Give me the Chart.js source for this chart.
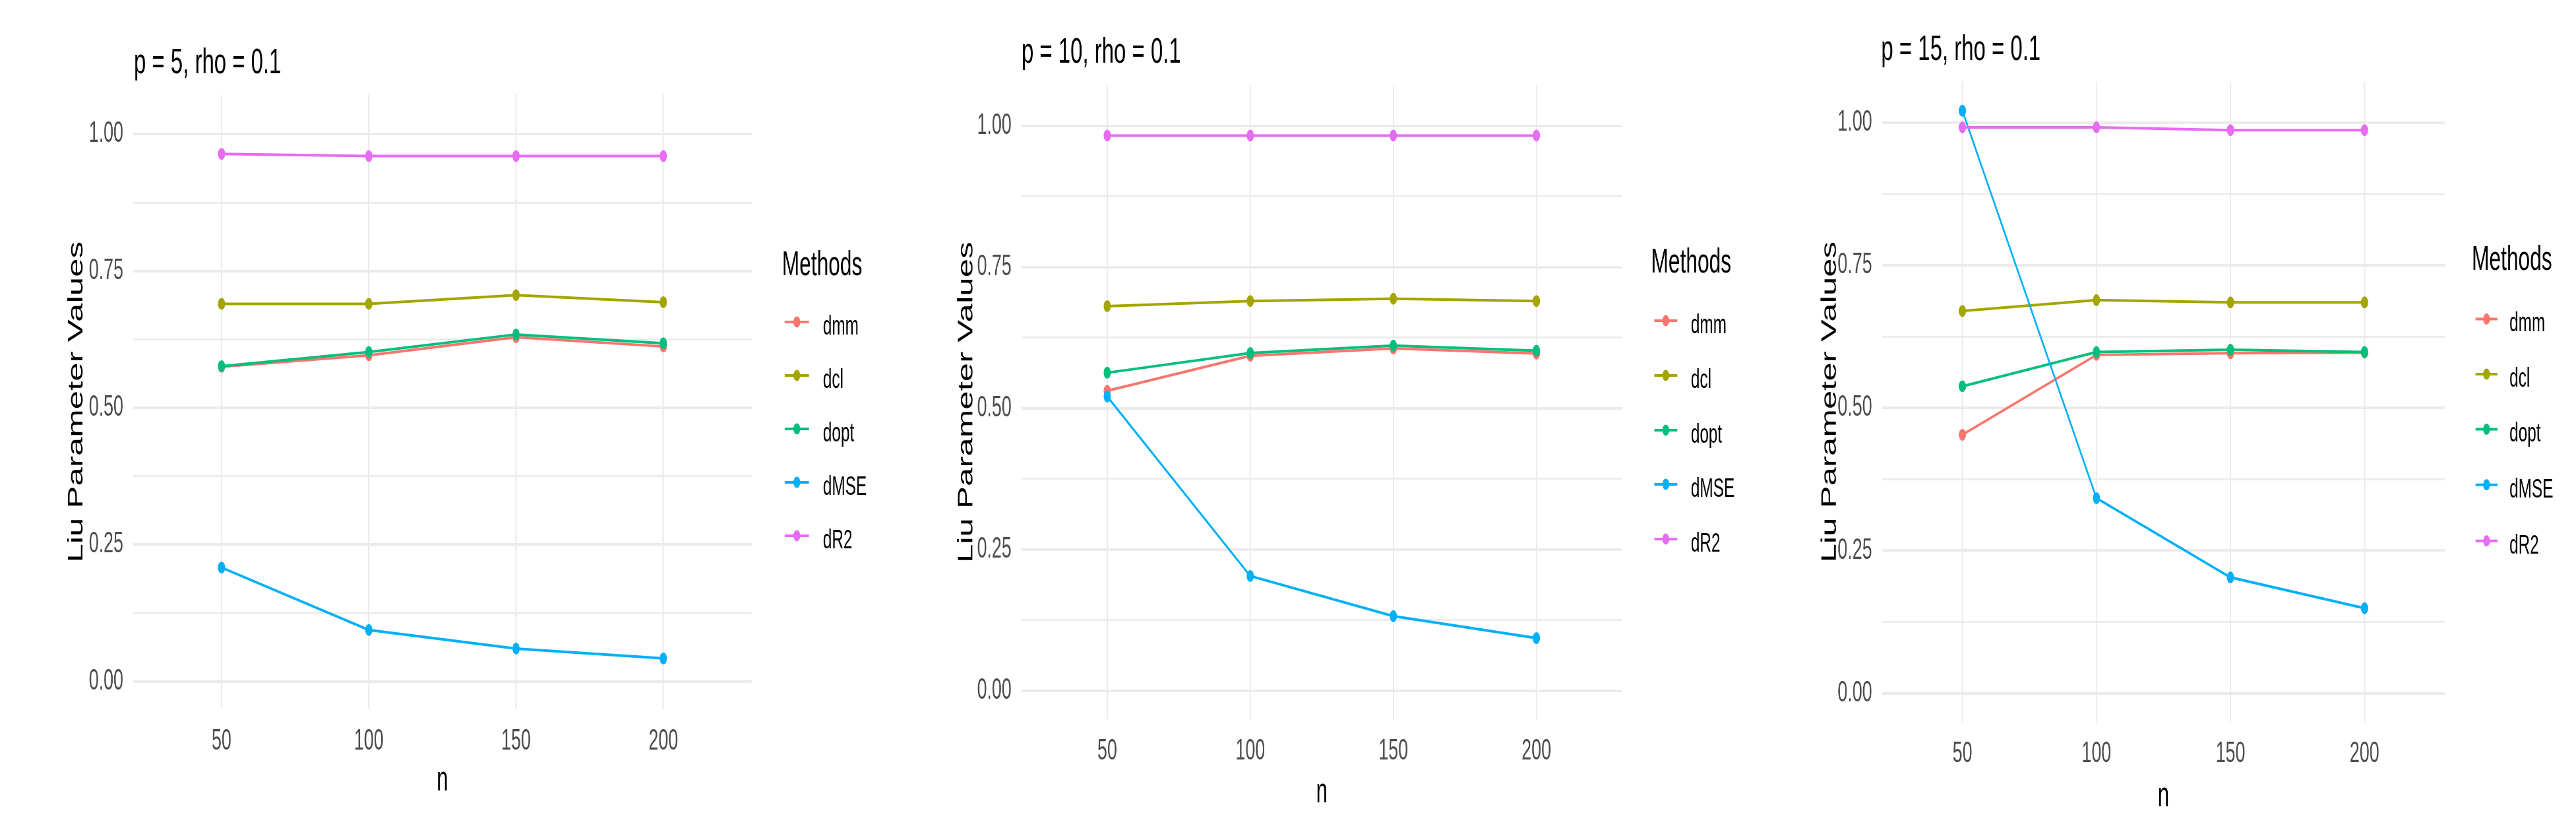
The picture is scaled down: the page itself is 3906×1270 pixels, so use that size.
<!DOCTYPE html>
<html>
<head>
<meta charset="utf-8">
<script src="https://cdn.jsdelivr.net/npm/chart.js@4.4.1/dist/chart.umd.min.js"></script>
<style>
  html, body { margin: 0; padding: 0; background: #fff; }
  #wrap { position: relative; width: 3906px; height: 1270px; overflow: hidden; background: #fff; }
  canvas { position: absolute; top: 0; }
</style>
</head>
<body>
<div id="wrap">
  <canvas id="p5"></canvas>
  <canvas id="p10"></canvas>
  <canvas id="p15"></canvas>
</div>
<script>
const nValues = [50, 100, 150, 200];
const methods = ['dmm', 'dcl', 'dopt', 'dMSE', 'dR2'];
const methodColors = ['#F8766D', '#A3A500', '#00BF7D', '#00B0F6', '#E76BF3'];
const yTicks = [0, 0.125, 0.25, 0.375, 0.5, 0.625, 0.75, 0.875, 1];

// p = 5
const p5_dmm  = [0.575, 0.596, 0.629, 0.612];
const p5_dcl  = [0.690, 0.690, 0.706, 0.693];
const p5_dopt = [0.576, 0.602, 0.634, 0.618];
const p5_dMSE = [0.208, 0.094, 0.060, 0.042];
const p5_dR2  = [0.964, 0.960, 0.960, 0.960];

// p = 10
const p10_dmm  = [0.531, 0.593, 0.606, 0.597];
const p10_dcl  = [0.681, 0.690, 0.694, 0.690];
const p10_dopt = [0.563, 0.598, 0.611, 0.602];
const p10_dMSE = [0.521, 0.203, 0.132, 0.093];
const p10_dR2  = [0.983, 0.983, 0.983, 0.983];

// p = 15
const p15_dmm  = [0.453, 0.593, 0.596, 0.597];
const p15_dcl  = [0.670, 0.689, 0.685, 0.685];
const p15_dopt = [0.538, 0.598, 0.602, 0.598];
const p15_dMSE = [1.021, 0.342, 0.203, 0.149];
const p15_dR2  = [0.992, 0.992, 0.987, 0.987];

// the picture is squeezed sideways, so each canvas is drawn wider and shrunk by css
const SQUASH = 0.61;
const H = 1270;
const FONT = '"Liberation Sans", Arial, sans-serif';

// y range shared by all panels: 0 .. overall max, plus ggplot's 5% expansion
const allY = [].concat(p5_dMSE, p10_dMSE, p15_dMSE, p5_dR2, p10_dR2, p15_dR2);
const yTop = Math.max(...allY);
const yMin = -0.05 * yTop;
const yMax = 1.05 * yTop;
// discrete x axis: 0.6 of a step on each side
const xStep = nValues[1] - nValues[0];
const xMin = nValues[0] - 0.6 * xStep;
const xMax = nValues[nValues.length - 1] + 0.6 * xStep;

const panels = [
  { id: 'p5', title: 'p = 5, rho = 0.1', series: [p5_dmm, p5_dcl, p5_dopt, p5_dMSE, p5_dR2],
    left: 0, width: 1360, area: { l: 202, r: 1140, t: 143.6, b: 1075 },
    titleX: 203, titleY: 110.7, yTitleX: 116.5, nY: 1189,
    legend: { x: 1186, titleY: 416.7, keys: [488, 569, 650, 731, 812], k1: 1190, k2: 1227, lab: 1248 } },
  { id: 'p10', title: 'p = 10, rho = 0.1', series: [p10_dmm, p10_dcl, p10_dopt, p10_dMSE, p10_dR2],
    left: 1300, width: 1360, area: { l: 1548.8, r: 2460, t: 129.2, b: 1090.4 },
    titleX: 1549, titleY: 95, yTitleX: 1466, nY: 1207,
    legend: { x: 2503.7, titleY: 413, keys: [486, 569, 652, 734, 817], k1: 2508.7, k2: 2543.5, lab: 2564 } },
  { id: 'p15', title: 'p = 15, rho = 0.1', series: [p15_dmm, p15_dcl, p15_dopt, p15_dMSE, p15_dR2],
    left: 2600, width: 1306, area: { l: 2853.6, r: 3707.3, t: 123.7, b: 1094.7 },
    titleX: 2852.4, titleY: 90.6, yTitleX: 2775, nY: 1213,
    legend: { x: 3748, titleY: 409, keys: [483.6, 567, 650.4, 734.7, 819.7], k1: 3753.7, k2: 3787, lab: 3805 } }
];

function isMajor(v) {
  return Math.abs(v * 4 - Math.round(v * 4)) < 1e-9;
}

function decoPlugin(pn, ix) {
  return {
    id: 'deco',
    afterDraw(chart) {
      const ctx = chart.ctx;
      const lg = pn.legend;
      ctx.save();
      ctx.fillStyle = '#000';
      ctx.textAlign = 'left';
      ctx.textBaseline = 'alphabetic';
      ctx.font = '54px ' + FONT;
      ctx.fillText(pn.title, ix(pn.titleX), pn.titleY);

      ctx.font = '52px ' + FONT;
      ctx.fillText('Methods', ix(lg.x), lg.titleY);

      ctx.font = '40px ' + FONT;
      methods.forEach((m, i) => {
        const y = lg.keys[i];
        const x1 = ix(lg.k1), x2 = ix(lg.k2);
        ctx.strokeStyle = methodColors[i];
        ctx.lineWidth = 4;
        ctx.beginPath();
        ctx.moveTo(x1, y);
        ctx.lineTo(x2, y);
        ctx.stroke();
        ctx.fillStyle = methodColors[i];
        ctx.beginPath();
        ctx.arc((x1 + x2) / 2, y, 8.5, 0, Math.PI * 2);
        ctx.fill();
        ctx.fillStyle = '#000';
        ctx.fillText(m, ix(lg.lab), y + 18.8);
      });
      ctx.restore();
    }
  };
}

function makeChart(pn) {
  const cv = document.getElementById(pn.id);
  const wInt = Math.round(pn.width / SQUASH);
  cv.width = wInt;
  cv.height = H;
  cv.style.left = pn.left + 'px';
  cv.style.width = pn.width + 'px';
  cv.style.height = H + 'px';

  const ix = x => (x - pn.left) / SQUASH;
  const areaL = ix(pn.area.l);
  const areaR = ix(pn.area.r);
  const yTitlePad = ix(pn.yTitleX) - 51 * 1.2 / 2;
  const nPad = H - (pn.nY - 4.6) - 51 * 1.2 / 2;

  return new Chart(cv, {
    type: 'line',
    data: {
      datasets: methods.map((m, i) => ({
        label: m,
        data: nValues.map((n, j) => ({ x: n, y: pn.series[i][j] })),
        borderColor: methodColors[i],
        backgroundColor: methodColors[i],
        borderWidth: 4,
        pointRadius: 9,
        pointHoverRadius: 9,
        pointBorderWidth: 0,
        tension: 0,
        order: methods.length - i
      }))
    },
    options: {
      responsive: false,
      animation: false,
      devicePixelRatio: 1,
      events: [],
      layout: { padding: { left: 0, top: pn.area.t, right: wInt - areaR, bottom: 0 } },
      plugins: {
        legend: { display: false },
        tooltip: { enabled: false },
        title: { display: false }
      },
      scales: {
        x: {
          type: 'linear',
          min: xMin,
          max: xMax,
          afterBuildTicks: s => { s.ticks = nValues.map(v => ({ value: v })); },
          afterFit: s => { s.height = H - pn.area.b; },
          ticks: {
            callback: v => String(v),
            color: '#4D4D4D',
            font: { family: FONT, size: 44 },
            padding: 22,
            autoSkip: false,
            maxRotation: 0,
            minRotation: 0
          },
          grid: { color: '#EBEBEB', lineWidth: 3.4, drawTicks: false },
          border: { display: false },
          title: {
            display: true,
            text: 'n',
            color: '#000',
            font: { family: FONT, size: 51 },
            padding: { top: 0, bottom: nPad }
          }
        },
        y: {
          type: 'linear',
          min: yMin,
          max: yMax,
          afterBuildTicks: s => { s.ticks = yTicks.map(v => ({ value: v })); },
          afterFit: s => { s.width = areaL; },
          ticks: {
            callback: v => isMajor(v) ? v.toFixed(2) : '',
            color: '#4D4D4D',
            font: { family: FONT, size: 44 },
            padding: 24.6,
            autoSkip: false
          },
          grid: {
            color: '#EBEBEB',
            lineWidth: c => (c.tick && !isMajor(c.tick.value)) ? 2.8 : 4,
            drawTicks: false
          },
          border: { display: false },
          title: {
            display: true,
            text: 'Liu Parameter Values',
            color: '#000',
            font: { family: FONT, size: 51 },
            padding: { top: yTitlePad, bottom: 0 }
          }
        }
      }
    },
    plugins: [decoPlugin(pn, ix)]
  });
}

panels.forEach(makeChart);
</script>
</body>
</html>
